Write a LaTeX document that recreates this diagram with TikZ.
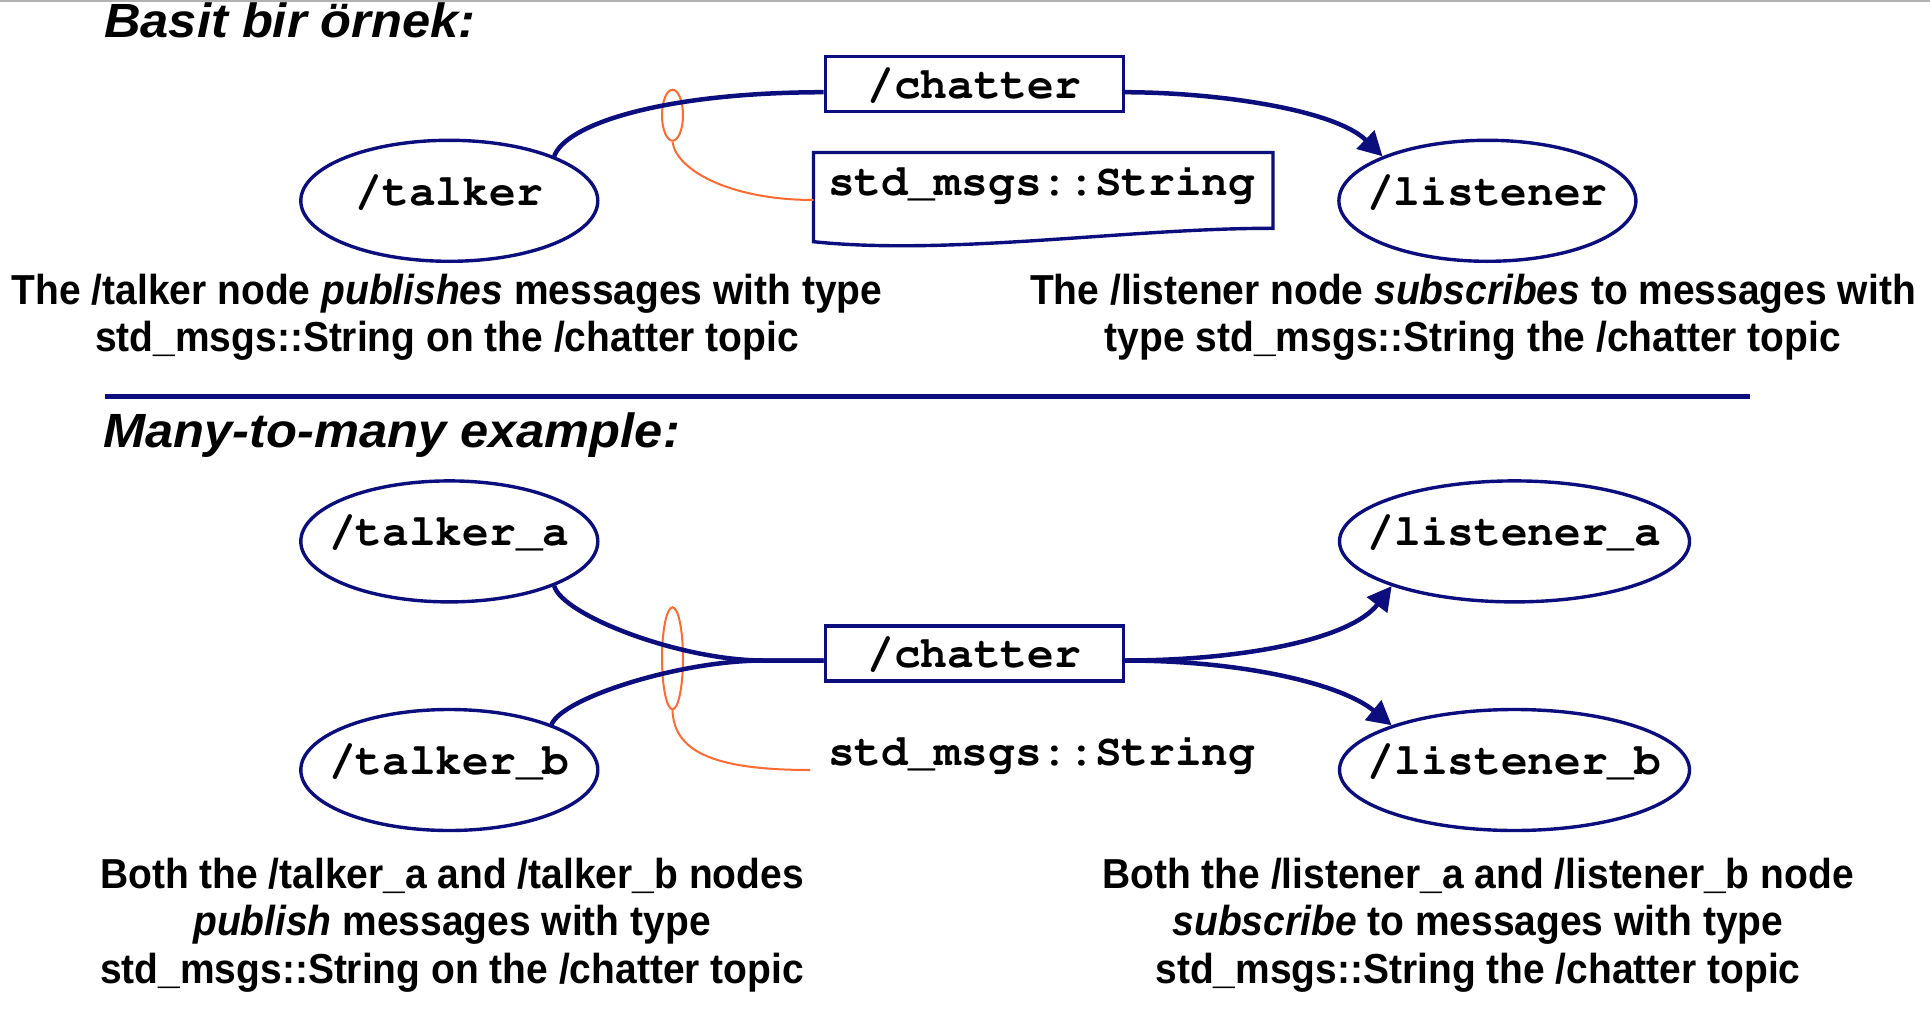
\documentclass[tikz,border=0pt]{standalone}
\usepackage[T1]{fontenc}
\usepackage{fontspec}
\usetikzlibrary{shapes.geometric,arrows.meta,calc}
\newfontfamily\capfamily[FakeStretch=0.93]{Liberation Sans}
\newfontfamily\headfamily[FakeStretch=1.055]{Liberation Sans}
\newcommand\monofont{\fontencoding{T1}\fontfamily{pcr}\fontseries{b}\fontshape{n}\fontsize{44.5}{50}\selectfont}
\newcommand\capfont{\capfamily\bfseries\fontsize{41.9}{47.5}\selectfont}
\newcommand\headfont{\headfamily\bfseries\itshape\fontsize{48}{52}\selectfont}
\newcommand\zw[1]{\makebox[0pt]{#1}}
\definecolor{navy}{RGB}{12,14,125}
\definecolor{ropeorange}{RGB}{255,106,48}
\begin{document}
\begin{tikzpicture}[x=1pt,y=-1pt,
  ell/.style={ellipse, draw=navy, line width=3.4pt, minimum width=297pt, minimum height=121pt, inner sep=0pt, font=\monofont, text height=20pt, text depth=11pt},
  topic/.style={rectangle, draw=navy, line width=3.4pt, minimum width=298pt, minimum height=55pt, inner sep=0pt, font=\monofont, text height=30pt, text depth=2pt},
  mono/.style={font=\monofont, inner sep=0pt},
  captext/.style={font=\capfont, align=center, inner sep=0pt},
  headtext/.style={font=\headfont, anchor=base west, inner sep=0pt},
  boxline/.style={draw=navy, line width=3.4pt},
  link/.style={navy, line width=4.5pt},
  arrowlink/.style={link, -{Triangle[length=24pt,width=25pt]}},
  ring/.style={ellipse, draw=ropeorange, line width=2pt, inner sep=0pt, minimum width=21pt},
  rope/.style={ropeorange, line width=2pt},
  sepline/.style={navy, line width=4.3pt},
  topline/.style={black!30, line width=2pt}]
\useasboundingbox (0,0) rectangle (1930,1030);
\fill[white] (0,0) rectangle (1930,1030);
\draw[topline] (0,1.2) -- (1930,1.2);

% titles
\node[headtext] (titleA) at (104,37.5) {Basit bir örnek:};
\node[headtext] (titleB) at (103,447.5) {Many-to-many example:};

% ---- top example
\node[ell] (talker) at (449.3,200.8) {\zw{/talker}};
\node[ell] (listener) at (1487.4,200.8) {\zw{/listener}};
\node[topic] (chatterA) at (974.2,84.2) {/chatter};
\draw[boxline] (813.5,152.5) -- (1273,152.5) -- (1273,228.3) .. controls (1130,228) and (950,256) .. (813.5,241.7) -- cycle;
\node[mono, anchor=base] (stdA) at (1041.7,195) {std\_msgs::String};
\coordinate (stdAedge) at (813.5,200);
\node[ring, minimum height=51pt] (ringA) at (672.5,115.2) {};

\draw[link] (talker.23) .. controls (565,125) and (660,92.5) .. ($(chatterA.west)+(0,8)$);
\draw[arrowlink] ($(chatterA.east)+(0,8)$) .. controls (1220,92.5) and (1335,110) .. (listener.157);
\draw[rope] (ringA.south) .. controls (676,170) and (730,200) .. (stdAedge);

\node[captext] (capA) at (447,317.5) {The /talker node \textit{publishes} messages with type\\std\_msgs::String on the /chatter topic};
\node[captext] (capB) at (1473,317.5) {The /listener node \textit{subscribes} to messages with\\type std\_msgs::String the /chatter topic};

\draw[sepline] (104.6,396.4) -- (1750,396.4);

% ---- many-to-many example
\node[ell] (talkerA) at (449.3,541.4) {\zw{/talker\_a}};
\node[ell] (talkerB) at (449.3,770) {\zw{/talker\_b}};
\node[ell, minimum width=350pt] (listenerA) at (1514.5,541.4) {\zw{/listener\_a}};
\node[ell, minimum width=350pt] (listenerB) at (1514.5,770) {\zw{/listener\_b}};
\node[topic] (chatterB) at (974.2,653.5) {/chatter};
\node[mono, anchor=base] (stdB) at (1041.7,765) {std\_msgs::String};
\coordinate (stdBedge) at (810,770);
\node[ring, minimum height=102pt] (ringB) at (672.5,658.3) {};

\draw[link] (talkerA.-23) .. controls (562,615) and (680,660.5) .. ($(chatterB.west)+(-60,7)$) -- ($(chatterB.west)+(0,7)$);
\draw[link] (talkerB.24) .. controls (562,698) and (680,660.5) .. ($(chatterB.west)+(-60,7)$) -- ($(chatterB.west)+(0,7)$);
\draw[arrowlink] ($(chatterB.east)+(0,7)$) .. controls (1240,660.5) and (1350,640) .. (listenerA.200);
\draw[arrowlink] ($(chatterB.east)+(0,7)$) .. controls (1240,660.5) and (1340,683) .. (listenerB.160);
\draw[rope] (ringB.south) .. controls (674,750) and (710,770) .. (stdBedge);

\node[captext] (capC) at (452,925) {Both the /talker\_a and /talker\_b nodes\\\textit{publish} messages with type\\std\_msgs::String on the /chatter topic};
\node[captext] (capD) at (1478,925) {Both the /listener\_a and /listener\_b node\\\textit{subscribe} to messages with type\\std\_msgs::String the /chatter topic};
\end{tikzpicture}
\end{document}
